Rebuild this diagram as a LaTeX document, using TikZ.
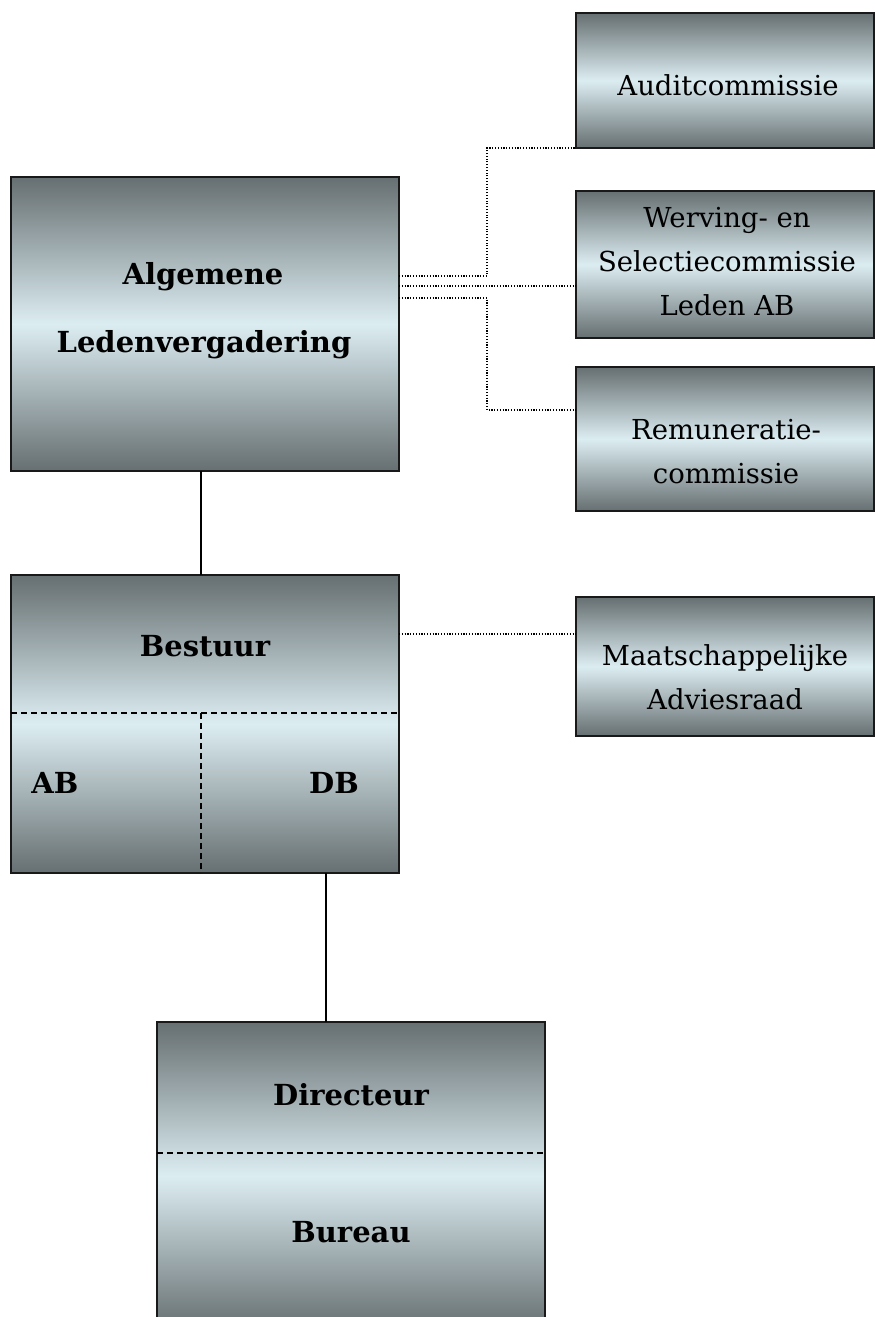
\documentclass[tikz,border=0pt]{standalone}
\usepackage{fontspec}
\setmainfont{DejaVu Serif}
\definecolor{gdark}{RGB}{102,111,113}
\definecolor{glight}{RGB}{220,237,242}
\begin{document}
\begin{tikzpicture}[x=1pt,y=-1pt,
  boxsh/.style={draw=black!90, line width=1.4pt, top color=gdark, bottom color=gdark, middle color=glight, inner sep=0pt, outer sep=0pt, minimum width=298pt},
  bigbox/.style={boxsh, minimum width=388pt},
  reg/.style={font=\fontsize{27.5}{44}\selectfont, align=center, inner sep=0pt},
  bld/.style={font=\bfseries\fontsize{29}{44}\selectfont, align=center, inner sep=0pt},
  dotl/.style={line width=1.1pt, dash pattern=on 1.1pt off 1.7pt},
  dashl/.style={line width=1.2pt, dash pattern=on 6pt off 4pt},
  solid line/.style={line width=1.2pt}]
\path[use as bounding box, clip] (0,0) rectangle (875,1317);
% boxes
\node[boxsh, minimum height=135pt] (audit) at (725,80.5) {};
\node[boxsh, minimum height=147pt] (werv) at (725,264.5) {};
\node[boxsh, minimum height=144pt] (remu) at (725,439) {};
\node[boxsh, minimum height=139pt] (maat) at (725,666.5) {};
\node[bigbox, minimum height=294pt] (alv) at (205,324) {};
\node[bigbox, minimum height=298pt] (best) at (205,724) {};
\node[bigbox, minimum height=308pt] (dir) at (351,1176) {};
% texts
\node[reg] (taudit) at (728,85) {Auditcommissie};
\node[reg] (twerv) at (727,262) {Werving- en\\Selectiecommissie\\Leden AB};
\node[reg] (tremu) at (726,452) {Remuneratie-\\commissie};
\node[reg] (tmaat) at (725,677) {Maatschappelijke\\Adviesraad};
\node[bld] (talv1) at (203,277) {Algemene};
\node[bld] (talv2) at (204,345) {Ledenvergadering};
\node[bld] (tbest) at (205,646) {Bestuur};
\node[bld] (tab) at (55,783) {AB};
\node[bld] (tdb) at (334,783) {DB};
\node[bld] (tdir) at (351,1095) {Directeur};
\node[bld] (tbur) at (351,1232) {Bureau};
% dashed dividers
\draw[dashl] ([yshift=-138pt]best.north west) -- ([yshift=-138pt]best.north east);
\draw[dashl] ([xshift=190pt,yshift=-138pt]best.north west) -- ([xshift=190pt]best.south west);
\draw[dashl] ([yshift=-131pt]dir.north west) -- ([yshift=-131pt]dir.north east);
% solid connectors
\coordinate (k1) at (201,0);
\coordinate (k2) at (326,0);
\draw[solid line] (alv.south -| k1) -- (best.north -| k1);
\draw[solid line] (best.south -| k2) -- (dir.north -| k2);
% dotted connectors
\draw[dotl] ([yshift=-99pt]alv.north east) -| ([xshift=-89pt]audit.south west) -- (audit.south west);
\draw[dotl] ([yshift=-109pt]alv.north east) -- ([yshift=-95pt]werv.north west);
\draw[dotl] ([yshift=-121pt]alv.north east) -| ([xshift=-89pt,yshift=-43pt]remu.north west) -- ([yshift=-43pt]remu.north west);
\draw[dotl] ([yshift=-59pt]best.north east) -- ([yshift=-37pt]maat.north west);
\end{tikzpicture}
\end{document}
